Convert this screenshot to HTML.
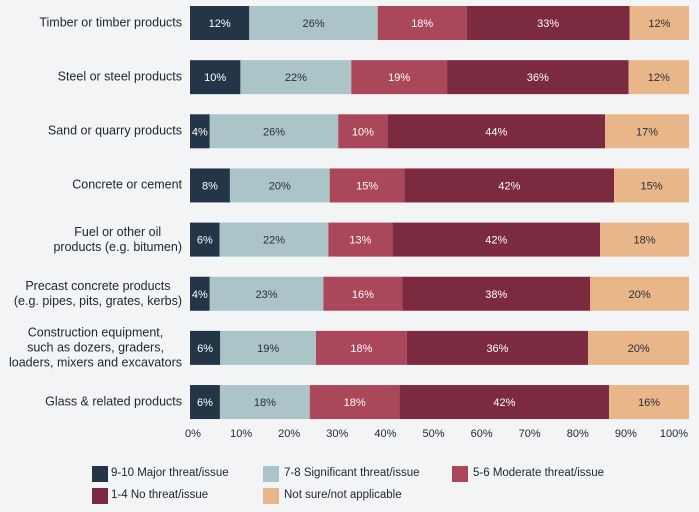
<!DOCTYPE html>
<html><head><meta charset="utf-8">
<style>
body{margin:0;background:#f3f4f6;font-family:"Liberation Sans",sans-serif;}
#wrap{position:relative;width:699px;height:512px;overflow:hidden;background:#f3f4f6;}
.cat{position:absolute;right:517px;text-align:center;font-size:12.5px;color:#1d2433;line-height:15px;transform:translateY(-50%);white-space:nowrap;}
.leg{position:absolute;font-size:11.5px;color:#1d2433;}
.sw{position:absolute;width:16px;height:16px;}
</style></head><body>
<div id="wrap">
<svg id="svg" width="699" height="512" style="position:absolute;left:0;top:0"></svg>
<div class="sw" style="left:92px;top:466px;background:#253548"></div>
<div class="leg" style="left:111px;top:467px">9-10 Major threat/issue</div>
<div class="sw" style="left:263px;top:466px;background:#abc4c8"></div>
<div class="leg" style="left:284px;top:467px">7-8 Significant threat/issue</div>
<div class="sw" style="left:452px;top:466px;background:#ab475a"></div>
<div class="leg" style="left:473px;top:467px">5-6 Moderate threat/issue</div>
<div class="sw" style="left:92px;top:488px;background:#7b2a40"></div>
<div class="leg" style="left:111px;top:489px">1-4 No threat/issue</div>
<div class="sw" style="left:263px;top:488px;background:#e9b68a"></div>
<div class="leg" style="left:284px;top:489px">Not sure/not applicable</div>
</div>
<script>
const categories=["Timber or timber products","Steel or steel products","Sand or quarry products","Concrete or cement","Fuel or other oil<br>products (e.g. bitumen)","Precast concrete products<br>(e.g. pipes, pits, grates, kerbs)","Construction equipment,<br>such as dozers, graders,<br>loaders, mixers and excavators","Glass &amp; related products"];
const major=[12,10,4,8,6,4,6,6];
const significant=[26,22,26,20,22,23,19,18];
const moderate=[18,19,10,15,13,16,18,18];
const noThreat=[33,36,44,42,42,38,36,42];
const notSure=[12,12,17,15,18,20,20,16];
const tickLabels=["0%","10%","20%","30%","40%","50%","60%","70%","80%","90%","100%"];
const series=[major,significant,moderate,noThreat,notSure];
const names=["major","significant","moderate","no-threat","not-sure"];
const colors=["#253548","#abc4c8","#ab475a","#7b2a40","#e9b68a"];
const textCol=["#fff","#2a2f3a","#fff","#fff","#2a2f3a"];
const X0=190,W=499,Y0=23,PITCH=54.15,BH=34;
const NS="http://www.w3.org/2000/svg";
const svg=document.getElementById('svg');
const wrap=document.getElementById('wrap');
function yC(i){return Y0+i*PITCH;}
categories.forEach((c,i)=>{
  let tot=0;series.forEach(s=>tot+=s[i]);
  let acc=0;
  series.forEach((s,k)=>{
    const x=X0+acc/tot*W,w=s[i]/tot*W;acc+=s[i];
    const r=document.createElementNS(NS,'rect');
    r.setAttribute('x',x);r.setAttribute('y',yC(i)-BH/2);r.setAttribute('width',w);r.setAttribute('height',BH);r.setAttribute('fill',colors[k]);
    
    
    svg.appendChild(r);
    const t=document.createElementNS(NS,'text');
    t.setAttribute('x',x+w/2);t.setAttribute('y',yC(i)+4);t.setAttribute('text-anchor','middle');
    t.setAttribute('font-size','11');t.setAttribute('fill',textCol[k]);t.setAttribute('font-family','Liberation Sans, sans-serif');
    t.textContent=s[i]+'%';
    
    
    svg.appendChild(t);
  });
  const d=document.createElement('div');
  d.className='cat';d.style.top=yC(i)+'px';d.innerHTML=c;
  
  
  wrap.appendChild(d);
});
tickLabels.forEach((l,i)=>{
  const t=document.createElementNS(NS,'text');
  t.setAttribute('x',193+i*48.1);t.setAttribute('y',437);t.setAttribute('text-anchor','middle');
  t.setAttribute('font-size','11');t.setAttribute('fill','#1d2433');t.setAttribute('font-family','Liberation Sans, sans-serif');
  t.textContent=l;
  
  
  svg.appendChild(t);
});
</script>
</body></html>
